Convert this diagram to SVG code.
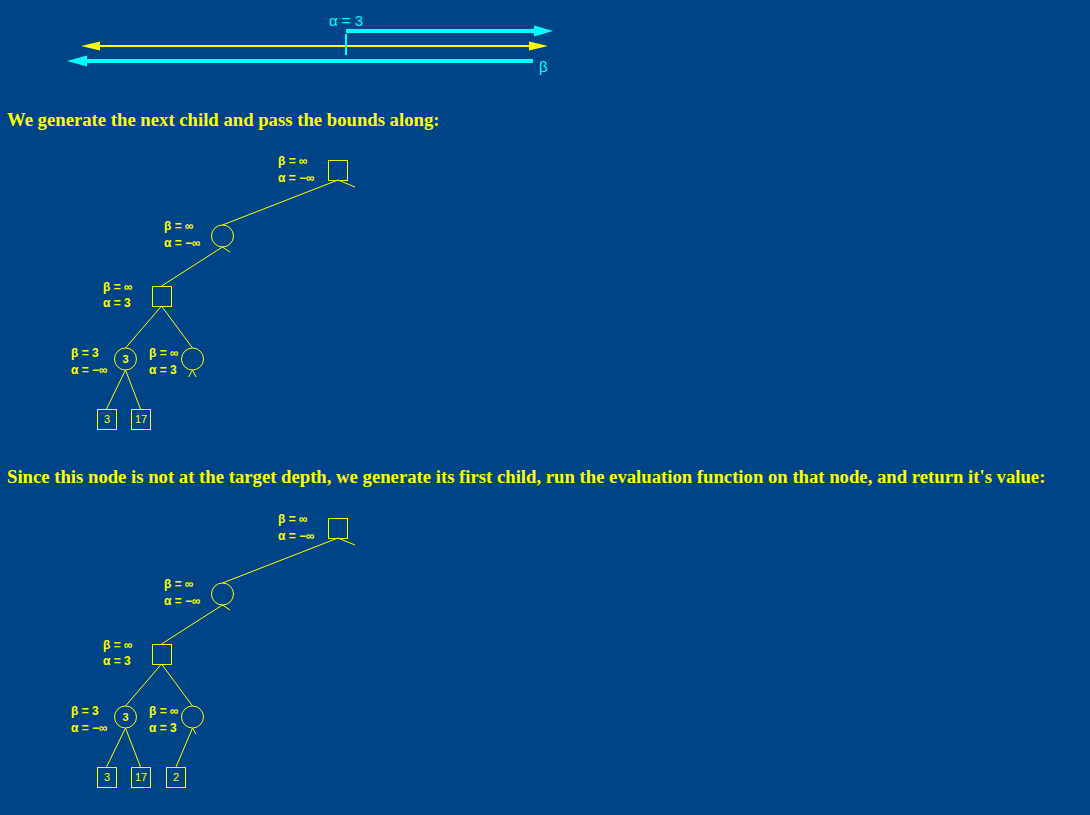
<svg xmlns="http://www.w3.org/2000/svg" width="1090" height="815" viewBox="0 0 1090 815">
<style>
.bg{fill:#004488}
.h{font-family:"Liberation Serif","Times New Roman",serif;font-weight:bold;font-size:18.7px;fill:#ffff00}
.lb{font-family:"Liberation Sans",Arial,sans-serif;font-weight:bold;font-size:12px;fill:#ffff00}
.nv{font-family:"Liberation Sans",Arial,sans-serif;font-size:11px;fill:#ffff00;text-anchor:middle}
.nb{font-family:"Liberation Sans",Arial,sans-serif;font-weight:bold;font-size:11px;fill:#ffff00;text-anchor:middle}
.cy{font-family:"Liberation Sans",Arial,sans-serif;font-size:15px;fill:#00ffff}
.node{fill:none;stroke:#ffff00;stroke-width:1}
.edge{stroke:#ffff00;stroke-width:1;fill:none}
</style>
<rect class="bg" x="0" y="0" width="1090" height="815"/>

<g id="bounds">
  <line x1="346" y1="31" x2="536" y2="31" stroke="#00ffff" stroke-width="4"/>
  <polygon points="553,31 534,25.5 534,36.5" fill="#00ffff"/>
  <line x1="99" y1="46" x2="531" y2="46" stroke="#ffff00" stroke-width="2"/>
  <polygon points="81,46 100,41.5 100,50.5" fill="#ffff00"/>
  <polygon points="548,46 529,41.5 529,50.5" fill="#ffff00"/>
  <line x1="346" y1="34" x2="346" y2="55" stroke="#00ffff" stroke-width="2"/>
  <line x1="85" y1="61" x2="533" y2="61" stroke="#00ffff" stroke-width="4"/>
  <polygon points="67,61 87,55.5 87,66.5" fill="#00ffff"/>
  <text class="cy" x="329" y="26">α = 3</text>
  <text class="cy" x="539" y="72">β</text>
</g>

<text class="h" x="7" y="126">We generate the next child and pass the bounds along:</text>
<text class="h" x="7" y="483">Since this node is not at the target depth, we generate its first child, run the evaluation function on that node, and return it's value:</text>

<!-- Tree 1 -->
<g id="tree1-connectors">
  <line class="edge" x1="338" y1="180" x2="222.5" y2="225"/>
  <line class="edge" x1="338" y1="180" x2="355" y2="187"/>
  <line class="edge" x1="222.5" y1="247" x2="161.5" y2="286"/>
  <line class="edge" x1="222.5" y1="247" x2="230" y2="252"/>
  <line class="edge" x1="161.5" y1="306" x2="125.5" y2="348"/>
  <line class="edge" x1="161.5" y1="306" x2="192.5" y2="348"/>
  <line class="edge" x1="125.5" y1="370" x2="106.5" y2="409"/>
  <line class="edge" x1="125.5" y1="370" x2="140.5" y2="409"/>
  <line class="edge" x1="192.5" y1="370" x2="188.5" y2="377"/>
  <line class="edge" x1="192.5" y1="370" x2="196" y2="377"/>
</g>
<g id="t1-root">
  <rect class="node" x="328.5" y="160.5" width="19" height="20"/>
  <text class="lb" x="278" y="165">β = ∞</text>
  <text class="lb" x="278" y="182">α = −∞</text>
</g>
<g id="t1-min">
  <circle class="node" cx="222.5" cy="236" r="11"/>
  <text class="lb" x="164" y="230">β = ∞</text>
  <text class="lb" x="164" y="247">α = −∞</text>
</g>
<g id="t1-max">
  <rect class="node" x="152.5" y="286.5" width="19" height="20"/>
  <text class="lb" x="103" y="291">β = ∞</text>
  <text class="lb" x="103" y="307">α = 3</text>
</g>
<g id="t1-minA">
  <circle class="node" cx="125.5" cy="359" r="11"/>
  <text class="nb" x="125.5" y="363">3</text>
  <text class="lb" x="71" y="357">β = 3</text>
  <text class="lb" x="71" y="374">α = −∞</text>
</g>
<g id="t1-minB">
  <circle class="node" cx="192.5" cy="359" r="11"/>
  <text class="lb" x="149" y="357">β = ∞</text>
  <text class="lb" x="149" y="374">α = 3</text>
</g>
<g id="t1-leaf3">
  <rect class="node" x="97.5" y="409.5" width="19" height="20"/>
  <text class="nv" x="107" y="423">3</text>
</g>
<g id="t1-leaf17">
  <rect class="node" x="131.5" y="409.5" width="19" height="20"/>
  <text class="nv" x="141" y="423">17</text>
</g>

<!-- Tree 2 -->
<g id="tree2-connectors">
  <line class="edge" x1="338" y1="538" x2="222.5" y2="583"/>
  <line class="edge" x1="338" y1="538" x2="355" y2="545"/>
  <line class="edge" x1="222.5" y1="605" x2="161.5" y2="644"/>
  <line class="edge" x1="222.5" y1="605" x2="230" y2="610"/>
  <line class="edge" x1="161.5" y1="664" x2="125.5" y2="706"/>
  <line class="edge" x1="161.5" y1="664" x2="192.5" y2="706"/>
  <line class="edge" x1="125.5" y1="728" x2="106.5" y2="767"/>
  <line class="edge" x1="125.5" y1="728" x2="140.5" y2="767"/>
  <line class="edge" x1="192.5" y1="728" x2="176" y2="767"/>
  <line class="edge" x1="192.5" y1="728" x2="196" y2="734"/>
</g>
<g id="t2-root">
  <rect class="node" x="328.5" y="518.5" width="19" height="20"/>
  <text class="lb" x="278" y="523">β = ∞</text>
  <text class="lb" x="278" y="540">α = −∞</text>
</g>
<g id="t2-min">
  <circle class="node" cx="222.5" cy="594" r="11"/>
  <text class="lb" x="164" y="588">β = ∞</text>
  <text class="lb" x="164" y="605">α = −∞</text>
</g>
<g id="t2-max">
  <rect class="node" x="152.5" y="644.5" width="19" height="20"/>
  <text class="lb" x="103" y="649">β = ∞</text>
  <text class="lb" x="103" y="665">α = 3</text>
</g>
<g id="t2-minA">
  <circle class="node" cx="125.5" cy="717" r="11"/>
  <text class="nb" x="125.5" y="721">3</text>
  <text class="lb" x="71" y="715">β = 3</text>
  <text class="lb" x="71" y="732">α = −∞</text>
</g>
<g id="t2-minB">
  <circle class="node" cx="192.5" cy="717" r="11"/>
  <text class="lb" x="149" y="715">β = ∞</text>
  <text class="lb" x="149" y="732">α = 3</text>
</g>
<g id="t2-leaf3">
  <rect class="node" x="97.5" y="767.5" width="19" height="20"/>
  <text class="nv" x="107" y="781">3</text>
</g>
<g id="t2-leaf17">
  <rect class="node" x="131.5" y="767.5" width="19" height="20"/>
  <text class="nv" x="141" y="781">17</text>
</g>
<g id="t2-leaf2">
  <rect class="node" x="166.5" y="767.5" width="19" height="20"/>
  <text class="nv" x="176" y="781">2</text>
</g>
</svg>
